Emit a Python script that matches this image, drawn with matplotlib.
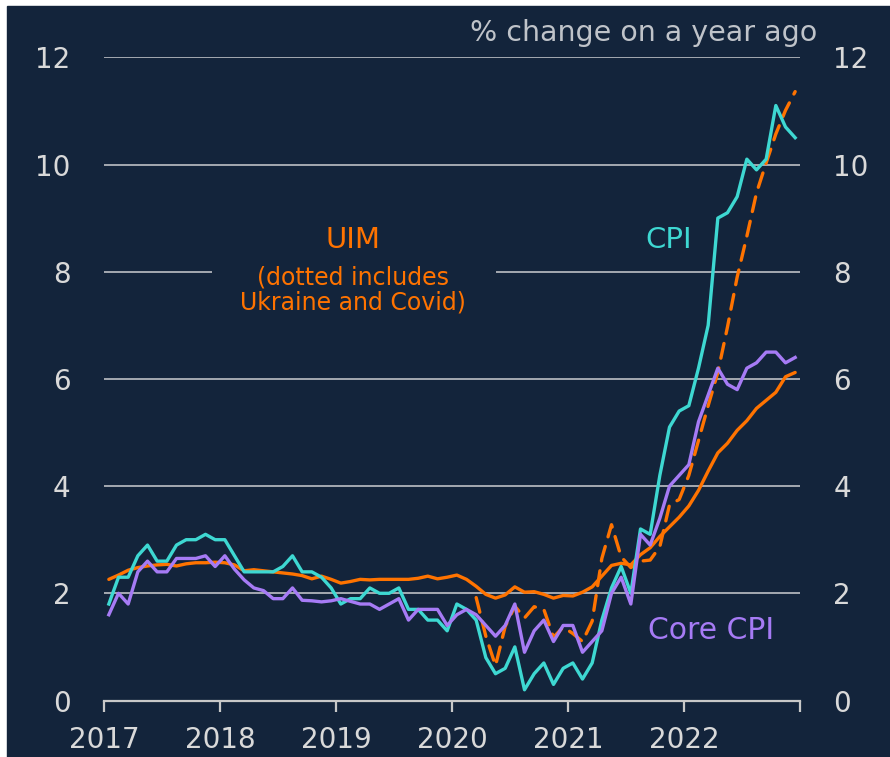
# UK inflation: CPI, core CPI and UIM, % change on a year ago
import numpy as np
import matplotlib
matplotlib.use("Agg")
import matplotlib.pyplot as plt
from matplotlib.patches import Rectangle

# ----------------------------------------
# Data (monthly, Jan 2017 - Dec 2022)
# ----------------------------------------
start_year = 2017
n_months = 72

cpi = [1.8, 2.3, 2.3, 2.7, 2.9, 2.6, 2.6, 2.9, 3.0, 3.0, 3.1, 3.0,
       3.0, 2.7, 2.4, 2.4, 2.4, 2.4, 2.5, 2.7, 2.4, 2.4, 2.3, 2.1,
       1.8, 1.9, 1.9, 2.1, 2.0, 2.0, 2.1, 1.7, 1.7, 1.5, 1.5, 1.3,
       1.8, 1.7, 1.5, 0.8, 0.5, 0.6, 1.0, 0.2, 0.5, 0.7, 0.3, 0.6,
       0.7, 0.4, 0.7, 1.5, 2.1, 2.5, 2.0, 3.2, 3.1, 4.2, 5.1, 5.4,
       5.5, 6.2, 7.0, 9.0, 9.1, 9.4, 10.1, 9.9, 10.1, 11.1, 10.7, 10.5]

core_cpi = [1.6, 2.0, 1.8, 2.4, 2.6, 2.4, 2.4, 2.65, 2.65, 2.65, 2.7, 2.5,
            2.7, 2.45, 2.25, 2.1, 2.05, 1.9, 1.9, 2.1, 1.87, 1.86, 1.84, 1.86,
            1.9, 1.85, 1.8, 1.8, 1.7, 1.8, 1.9, 1.5, 1.7, 1.7, 1.7, 1.4,
            1.6, 1.7, 1.6, 1.4, 1.2, 1.4, 1.8, 0.9, 1.3, 1.5, 1.1, 1.4,
            1.4, 0.9, 1.1, 1.3, 2.0, 2.3, 1.8, 3.1, 2.9, 3.4, 4.0, 4.2,
            4.4, 5.2, 5.7, 6.2, 5.9, 5.8, 6.2, 6.3, 6.5, 6.5, 6.3, 6.4]

uim = [2.26, 2.34, 2.43, 2.48, 2.51, 2.53, 2.54, 2.51, 2.55, 2.57, 2.57, 2.58,
       2.57, 2.53, 2.42, 2.44, 2.42, 2.40, 2.38, 2.36, 2.33, 2.27, 2.32, 2.26,
       2.19, 2.22, 2.26, 2.25, 2.26, 2.26, 2.26, 2.26, 2.28, 2.32, 2.27, 2.30,
       2.34, 2.26, 2.13, 1.98, 1.91, 1.97, 2.12, 2.02, 2.03, 1.98, 1.91, 1.96,
       1.95, 2.02, 2.12, 2.32, 2.52, 2.56, 2.53, 2.72, 2.85, 3.06, 3.24, 3.42,
       3.63, 3.92, 4.28, 4.62, 4.80, 5.04, 5.22, 5.45, 5.60, 5.75, 6.04, 6.12]

# UIM including Ukraine and Covid effects, from Mar 2020
uim_dotted_start = 38
uim_dotted = [1.92, 1.2, 0.65, 1.38, 1.76, 1.54, 1.75, 1.70, 1.18, 1.37,
              1.25, 1.10, 1.48, 2.65, 3.28, 2.68, 2.48, 2.60, 2.62, 2.87,
              3.65, 3.75, 4.20, 4.85, 5.50, 6.12, 6.97, 7.90, 8.66, 9.47,
              10.03, 10.57, 11.01, 11.36]

years = [2017, 2018, 2019, 2020, 2021, 2022, 2023]
year_labels = ['2017', '2018', '2019', '2020', '2021', '2022', '']
y_ticks = [0, 2, 4, 6, 8, 10, 12]

# mid-month positions
months = start_year + (np.arange(n_months) + 0.5) / 12
months_dotted = months[uim_dotted_start:uim_dotted_start + len(uim_dotted)]

# ----------------------------------------
# Style
# ----------------------------------------
bg = '#13243b'
text_col = '#d9d9d9'
grid_col = '#b0b4ba'
cpi_col = '#3ed8d2'
core_col = '#a67bf5'
uim_col = '#ff7300'

plt.rcParams['font.family'] = ['DejaVu Sans']

fig = plt.figure(figsize=(8.9, 7.57), dpi=100, facecolor='white')
fig.patches.append(Rectangle((7 / 890, 0), 1, 1 - 6 / 757,
                             transform=fig.transFigure, color=bg, zorder=-5))
ax = fig.add_axes([104 / 890, 1 - 700.5 / 757, 696 / 890, 643.2 / 757])
ax.set_facecolor('none')
ax.set_zorder(2)

# gridlines (gap at 8 for the UIM label)
for v in y_ticks[1:]:
    if v == 8:
        ax.hlines(v, 2017, 2017.93, color=grid_col, lw=1.3, zorder=1)
        ax.hlines(v, 2020.38, 2023, color=grid_col, lw=1.3, zorder=1)
    else:
        ax.hlines(v, 2017, 2023, color=grid_col, lw=1.3, zorder=1)

ax.plot(months, uim, color=uim_col, lw=2.4, zorder=3, solid_capstyle='round')
ax.plot(months_dotted, uim_dotted, color=uim_col, lw=2.4, zorder=3,
        dashes=(4.5, 3.0), dash_capstyle='round')
ax.plot(months, cpi, color=cpi_col, lw=2.4, zorder=4)
ax.plot(months, core_cpi, color=core_col, lw=2.4, zorder=5)

ax.set_xlim(2017, 2023)
ax.set_ylim(0, 12)

for side in ['top', 'left', 'right']:
    ax.spines[side].set_visible(False)
ax.spines['bottom'].set_color('#c8c8c8')
ax.spines['bottom'].set_linewidth(1.6)

ax.set_xticks(years)
ax.set_xticklabels(year_labels)
ax.set_yticks(y_ticks)
ax.set_yticklabels([str(v) for v in y_ticks])
ax.tick_params(axis='x', colors='#c8c8c8', length=8, width=1.6, pad=10,
               labelsize=20, labelcolor=text_col)
ax.tick_params(axis='y', length=0, pad=24, labelsize=20, labelcolor=text_col,
               labelleft=True, labelright=True)

# annotations
ax.text(1.0244, 1.038, '% change on a year ago', transform=ax.transAxes,
        ha='right', va='center', fontsize=20.5, color='#bfc3c9')
ax.text(2019.15, 8.6, 'UIM', ha='center', va='center', fontsize=21, color=uim_col)
ax.text(2019.15, 7.9, '(dotted includes', ha='center', va='center',
        fontsize=17, color=uim_col)
ax.text(2019.15, 7.43, 'Ukraine and Covid)', ha='center', va='center',
        fontsize=17, color=uim_col)
ax.text(2021.87, 8.6, 'CPI', ha='center', va='center', fontsize=21, color=cpi_col)
ax.text(2022.23, 1.3, 'Core CPI', ha='center', va='center', fontsize=21.5,
        color=core_col)

fig.savefig('out.png', dpi=100, facecolor=fig.get_facecolor())
